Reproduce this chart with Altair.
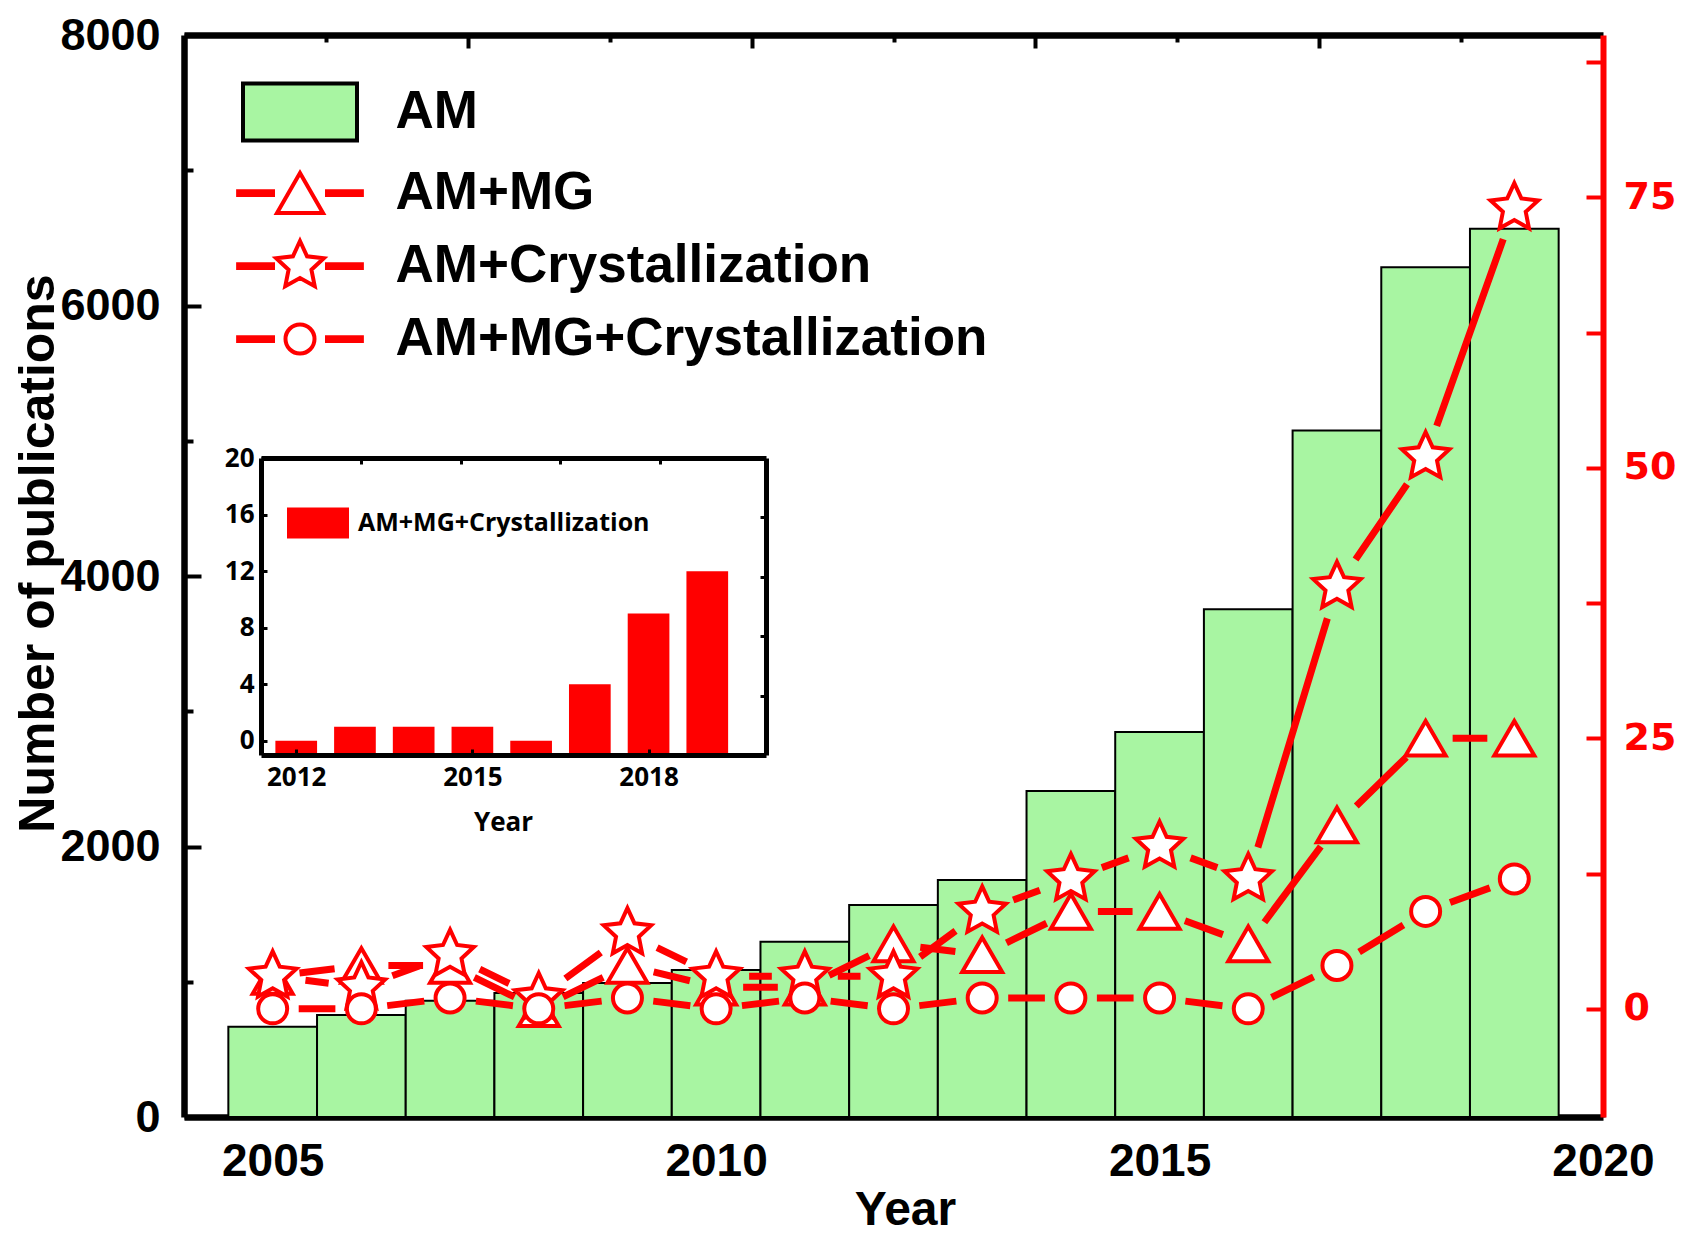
import math
import altair as alt
import pandas as pd

# ---------------- data ----------------
YEARS = list(range(2005, 2020))
AM = [668, 754, 860, 917, 990, 1087, 1296, 1567, 1752, 2410, 2846, 3755, 5075, 6282, 6568]
AM_MG = [3, 4, 4, 0, 4, 2, 2, 6, 5, 9, 9, 6, 17, 25, 25]
AM_CRYS = [3, 2, 5, 1, 7, 3, 3, 3, 9, 12, 15, 12, 39, 51, 74]
AM_MG_CRYS = [0, 0, 1, 0, 1, 0, 1, 0, 1, 1, 1, 0, 4, 9, 12]

INSET_YEARS = list(range(2012, 2020))
INSET_VALS = [0, 1, 1, 1, 0, 4, 9, 12]

LEGEND = ["AM", "AM+MG", "AM+Crystallization", "AM+MG+Crystallization"]
INSET_LEGEND = "AM+MG+Crystallization"

LEFT_TICKS = [0, 1000, 2000, 3000, 4000, 5000, 6000, 7000, 8000]
RIGHT_TICKS = [0, 12.5, 25, 37.5, 50, 62.5, 75, 87.5]
BOTTOM_TICKS = [2005, 2010, 2015, 2020]
TOP_TICKS = [2005.6, 2007.2, 2008.8, 2010.4, 2012.0, 2013.6, 2015.2, 2016.8, 2018.4]
INSET_X_TICKS = [2012, 2015, 2018]
INSET_Y_TICKS = [0, 4, 8, 12, 16, 20]
INSET_TOP_TICKS = [2013.1, 2014.8, 2016.5, 2018.2]
INSET_RIGHT_TICKS = [3.2, 7.4, 11.6, 15.8]

# ---------------- style ----------------
W, H = 1419, 1082
GREEN = "#A8F5A2"
RED = "#FF0000"
FONT = "Liberation Sans"
INSET_FONT = "Open Sans"

XS = alt.Scale(domain=[2004, 2020], nice=False, zero=False)
YL = alt.Scale(domain=[0, 8000], nice=False, zero=True)
YR = alt.Scale(domain=[-10, 90], nice=False, zero=False)
IXS = alt.Scale(domain=[2011.4, 2020], range=[77, 582], nice=False, zero=False)
IYS = alt.Scale(domain=[-1, 20], range=[720, 423], nice=False, zero=False)

KX = W / 16.0
KY = H / 100.0
DASH = ("[0.01, datum.gap, max(0.01, sqrt(pow((datum.yr2 - datum.yr) * %f, 2) + "
        "pow((datum.val2 - datum.val) * %f, 2)) - 2 * datum.gap), 100000]" % (KX, KY))


def star_path(R, ratio=0.48):
    pts = []
    for k in range(10):
        a = math.radians(-90 + 36 * k)
        r = R if k % 2 == 0 else R * ratio
        pts.append("%.4f,%.4f" % (r * math.cos(a), r * math.sin(a)))
    return "M" + "L".join(pts) + "Z"


def circle_path(r):
    return ("M%.4f,0A%.4f,%.4f,0,1,1,%.4f,0A%.4f,%.4f,0,1,1,%.4f,0Z"
            % (r, r, r, -r, r, r, r))


DASHES = "M-1.65,-0.05H-0.72V0.05H-1.65ZM0.72,-0.05H1.65V0.05H0.72Z"
LEG_PATHS = [
    "M-1.52,-0.76H1.52V0.76H-1.52Z",
    DASHES + "M0,-0.531L0.613,0.531L-0.613,0.531Z",
    DASHES + star_path(0.667),
    DASHES + circle_path(0.387),
]
STAR = star_path(1.0)


def tick_expr(s):
    return alt.ExprRef(expr=s)


# ---------------- AM bars (left axis, bottom axis) ----------------
bars_df = pd.DataFrame({"year": YEARS, "am": AM})
bars = alt.Chart(bars_df).transform_calculate(
    x0="datum.year - 0.5", x1="datum.year + 0.5"
).mark_bar(fill=GREEN, stroke="black", strokeWidth=2).encode(
    x=alt.X("x0:Q", scale=XS, axis=alt.Axis(
        orient="bottom", values=BOTTOM_TICKS, format="d", grid=False,
        domainColor="black", domainWidth=6.5, tickColor="black", tickWidth=4,
        tickSize=tick_expr("-14"), labelPadding=36, labelFlush=False, labelOverlap=False,
        labelFont=FONT, labelFontSize=46, labelFontWeight="bold", labelColor="black",
        title="Year", titleFont=FONT, titleFontSize=48, titleFontWeight="bold",
        titleColor="black", titleX=721, titleY=93, titleBaseline="middle",
        titleAlign="center")),
    x2="x1:Q",
    y=alt.Y("am:Q", scale=YL, axis=alt.Axis(
        orient="left", values=LEFT_TICKS, format="d", grid=False,
        labelExpr="datum.value % 2000 == 0 ? datum.label : ''",
        domainColor="black", domainWidth=6.5, tickColor="black", tickWidth=4,
        tickSize=tick_expr("datum.value % 2000 == 0 ? -17 : -9"), labelPadding=41,
        labelFont=FONT, labelFontSize=45, labelFontWeight="bold", labelColor="black",
        title="Number of publications", titleFont=FONT, titleFontSize=50,
        titleFontWeight="bold", titleColor="black", titleX=-146, titleY=518,
        titleAngle=270, titleBaseline="middle", titleAlign="center")),
    y2=alt.datum(0),
)

# ---------------- line series (right axis, top axis) ----------------
def segs(vals, gap):
    return pd.DataFrame({"yr": YEARS[:-1], "val": vals[:-1],
                         "yr2": YEARS[1:], "val2": vals[1:], "gap": gap})


def pts(vals):
    return pd.DataFrame({"yr": YEARS, "val": vals})


def top_axis():
    return alt.Axis(orient="top", values=TOP_TICKS, labels=False, title=None, grid=False,
                    domainColor="black", domainWidth=6.5, tickColor="black", tickWidth=4,
                    tickSize=tick_expr("round((datum.value - 2004) / 1.6) % 2 == 0 ? -13 : -7"))


def right_axis():
    return alt.Axis(orient="right", values=RIGHT_TICKS, grid=False, title=None,
                    labelExpr="datum.value % 25 == 0 ? datum.label : ''",
                    domainColor=RED, domainWidth=6, tickColor=RED, tickWidth=4,
                    tickSize=tick_expr("-17"), labelPadding=37,
                    labelFont="DejaVu Sans", labelFontSize=38, labelFontWeight="bold",
                    labelColor=RED)


def seg_layer(vals, gap):
    return alt.Chart(segs(vals, gap)).mark_rule(
        color=RED, strokeWidth=7, strokeCap="butt", strokeDash=alt.ExprRef(expr=DASH)
    ).encode(
        x=alt.X("yr:Q", scale=XS, axis=top_axis()),
        x2="yr2:Q",
        y=alt.Y("val:Q", scale=YR, axis=right_axis()),
        y2="val2:Q",
    )


def pt_layer(vals, shape, size):
    return alt.Chart(pts(vals)).mark_point(
        shape=shape, size=size, filled=True, fill="white", stroke=RED,
        strokeWidth=4, opacity=1
    ).encode(
        x=alt.X("yr:Q", scale=XS, axis=top_axis()),
        y=alt.Y("val:Q", scale=YR, axis=right_axis()),
    )


leg = alt.Legend(orient="none", legendX=76.5, legendY=37.5, title=None,
                 symbolSize=5625, symbolStrokeWidth=4, symbolOpacity=1,
                 labelFont=FONT, labelFontSize=53, labelFontWeight="bold",
                 labelColor="black", labelOffset=56, rowPadding=5, padding=0,
                 labelLimit=1000)
legend_layer = alt.Chart(pd.DataFrame({"series": LEGEND})).mark_point(
    filled=True, opacity=0
).encode(
    fill=alt.Fill("series:N", scale=alt.Scale(domain=LEGEND, range=[GREEN, "white", "white", "white"]), legend=leg),
    stroke=alt.Stroke("series:N", scale=alt.Scale(domain=LEGEND, range=["black", RED, RED, RED]), legend=leg),
    shape=alt.Shape("series:N", scale=alt.Scale(domain=LEGEND, range=LEG_PATHS), legend=leg),
)

series = alt.layer(
    seg_layer(AM_MG, 27),
    pt_layer(AM_MG, "triangle-up", 1600),
    seg_layer(AM_CRYS, 33),
    pt_layer(AM_CRYS, STAR, 2500),
    seg_layer(AM_MG_CRYS, 26),
    pt_layer(AM_MG_CRYS, "circle", 841),
    legend_layer,
)

# ---------------- inset ----------------
inset_df = pd.DataFrame({"year": INSET_YEARS, "n": INSET_VALS, "series": INSET_LEGEND})
inset = alt.Chart(inset_df).transform_calculate(
    x0="datum.year - 0.355", x1="datum.year + 0.355"
).mark_bar().encode(
    x=alt.X("x0:Q", scale=IXS, axis=alt.Axis(
        orient="bottom", offset=-362, values=INSET_X_TICKS, format="d", grid=False,
        domainColor="black", domainWidth=5, tickColor="black", tickWidth=3,
        tickSize=tick_expr("-6"), labelPadding=15, labelFlush=False, labelOverlap=False,
        labelFont=INSET_FONT, labelFontSize=26, labelFontWeight="bold", labelColor="black",
        title="Year", titleFont=INSET_FONT, titleFontSize=26, titleFontWeight="bold",
        titleColor="black", titleX=319, titleY=67, titleBaseline="middle",
        titleAlign="center", zindex=1)),
    x2="x1:Q",
    y=alt.Y("n:Q", scale=IYS, axis=alt.Axis(
        orient="left", offset=-77, values=INSET_Y_TICKS, format="d", grid=False,
        domainColor="black", domainWidth=5, tickColor="black", tickWidth=3,
        tickSize=tick_expr("-6"), labelPadding=13,
        labelFont=INSET_FONT, labelFontSize=26, labelFontWeight="bold", labelColor="black",
        title=None, zindex=1)),
    y2=alt.datum(-1),
    color=alt.Color("series:N", scale=alt.Scale(domain=[INSET_LEGEND], range=[RED]),
                    legend=alt.Legend(orient="none", legendX=103, legendY=457, title=None,
                                      symbolType="M-1,-0.5H1V0.5H-1Z", symbolSize=3844,
                                      symbolStrokeWidth=0, symbolOpacity=1,
                                      labelFont=INSET_FONT, labelFontSize=25,
                                      labelFontWeight="bold", labelColor="black",
                                      labelOffset=9, padding=0, labelLimit=1000)),
)

inset_frame = alt.Chart(inset_df).mark_point(opacity=0).encode(
    x=alt.X("year:Q", scale=IXS, axis=alt.Axis(
        orient="top", offset=-423, values=INSET_TOP_TICKS, labels=False, title=None,
        grid=False, domainColor="black", domainWidth=5, tickColor="black", tickWidth=3,
        tickSize=tick_expr("-6"), zindex=1)),
    y=alt.Y("n:Q", scale=IYS, axis=alt.Axis(
        orient="right", offset=-837, values=INSET_RIGHT_TICKS, labels=False, title=None,
        grid=False, domainColor="black", domainWidth=5, tickColor="black", tickWidth=3,
        tickSize=tick_expr("-6"), zindex=1)),
)

chart = alt.layer(bars, series, inset, inset_frame).resolve_scale(
    x="independent", y="independent"
).properties(
    width=W, height=H,
    autosize=alt.AutoSizeParams(type="none"),
    padding={"left": 176, "top": 27, "right": 74, "bottom": 118},
).configure_view(stroke=None)

chart.save("out.html", embed_options={"renderer": "svg", "actions": False})
